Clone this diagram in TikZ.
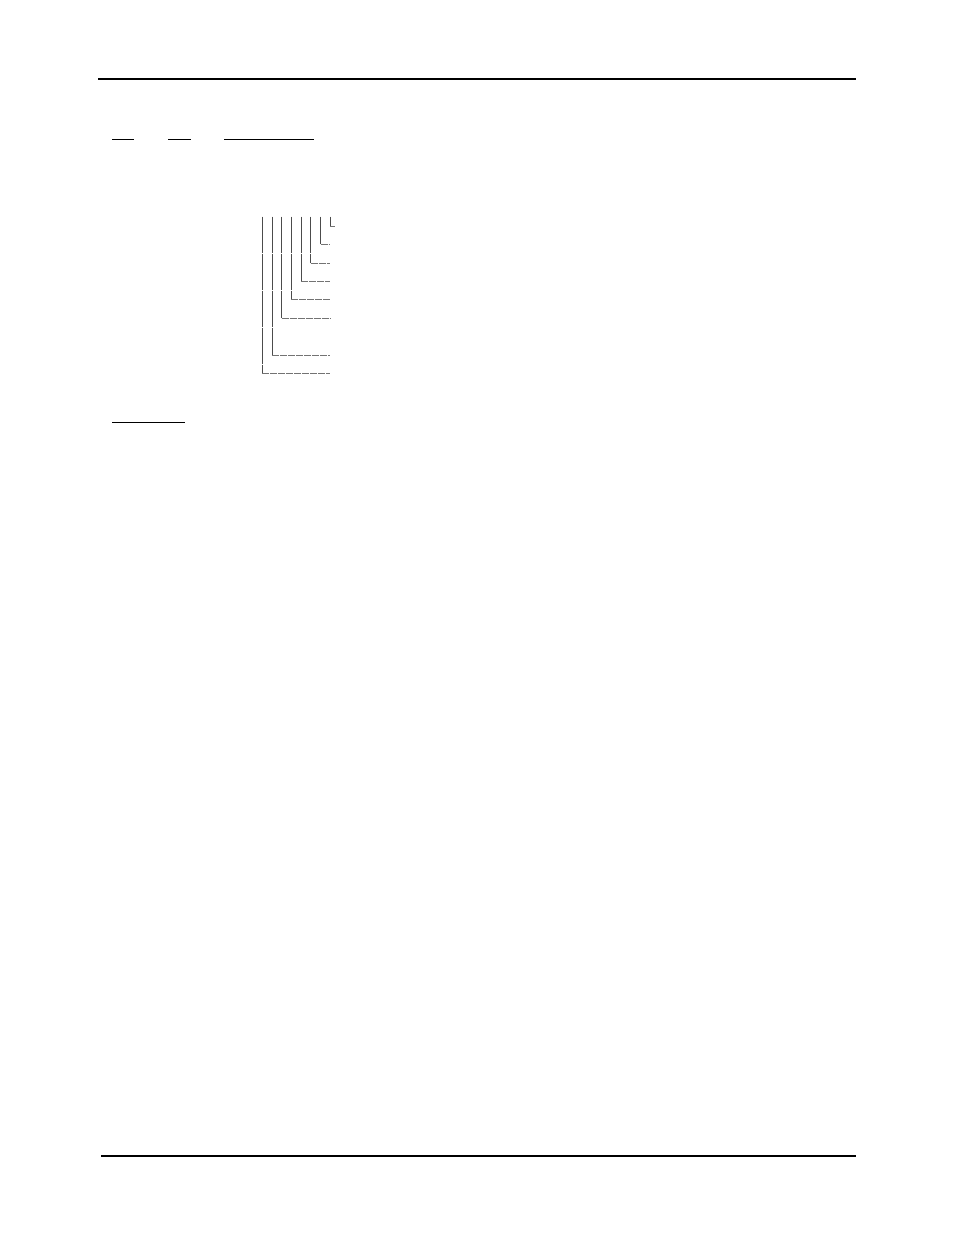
\documentclass[tikz,border=0pt]{standalone}
\begin{document}
\begin{tikzpicture}[x=1pt,y=-1pt,
  rule/.style={line width=2pt,black},
  uline/.style={line width=1.3pt,black},
  vbar/.style={line width=0.9pt,black!70,dash pattern=on 36pt off 1pt},
  hbar/.style={line width=0.9pt,black!55,dash pattern=on 7pt off 1pt}]
\useasboundingbox[fill=white] (0,0) rectangle (954,1235);
% header and footer rules
\draw[rule] (98,78.7) -- (856,78.7);
\draw[rule] (101,1156) -- (856,1156);
% underlines
\draw[uline] (112.3,139.3) -- (133.7,139.3);
\draw[uline] (168.3,139.3) -- (190.7,139.3);
\draw[uline] (224.3,139.3) -- (313.7,139.3);
\draw[uline] (112.3,422.3) -- (185,422.3);
% bracket tree
\foreach \x/\y/\e in {330.3/226.7/335, 320.7/244.3/330, 310.7/263/330, 301.3/281.3/330,
                      291.3/299.3/330, 281.7/318.3/330, 272/355/330, 262.3/373.7/330}{
  \coordinate (c) at (\x,\y);
  \draw[vbar] (\x,216.7) -- (c);
  \draw[hbar] (c) -- (\e,\y);
}
\end{tikzpicture}
\end{document}
